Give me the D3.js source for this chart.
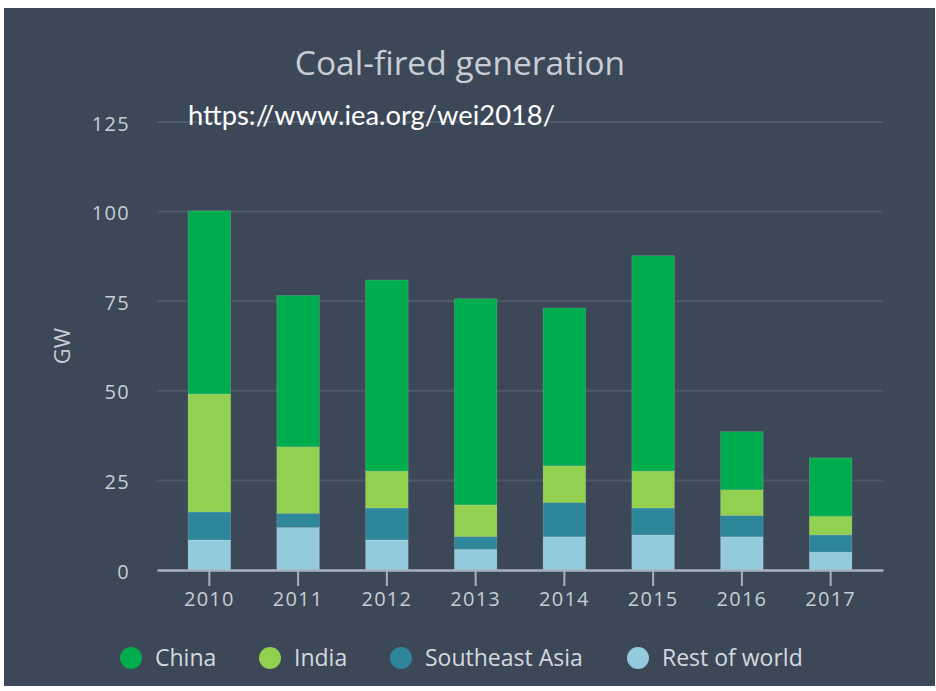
<!DOCTYPE html>
<html>
<head>
<meta charset="utf-8">
<script src="https://cdn.jsdelivr.net/npm/d3@7"></script>
<style>
  html, body { margin: 0; padding: 0; background: #ffffff; }
  svg { display: block; }
</style>
</head>
<body>
<svg id="chart" width="936" height="691"></svg>
<script>
const years = ["2010", "2011", "2012", "2013", "2014", "2015", "2016", "2017"];
const seriesNames = ["Rest of world", "Southeast Asia", "India", "China"];
const restOfWorld = [8.4, 11.9, 8.4, 5.8, 9.3, 9.8, 9.3, 5.0];
const southeastAsia = [7.8, 3.9, 8.9, 3.5, 9.5, 7.5, 5.9, 4.8];
const india = [32.9, 18.6, 10.3, 8.9, 10.3, 10.3, 7.2, 5.2];
const china = [51.1, 42.2, 53.3, 57.5, 44.0, 60.1, 16.2, 16.3];
const yTicks = [0, 25, 50, 75, 100, 125];
const legendOrder = ["China", "India", "Southeast Asia", "Rest of world"];
const titleText = "Coal-fired generation";
const urlText = "https://www.iea.org/wei2018/";
const yLabel = "GW";

const colors = {
  "China": "#00ad4e",
  "India": "#92d050",
  "Southeast Asia": "#2e869b",
  "Rest of world": "#93cbdc"
};

const seriesValues = {
  "Rest of world": restOfWorld,
  "Southeast Asia": southeastAsia,
  "India": india,
  "China": china
};

const table = years.map((y, i) => {
  const row = { year: y };
  seriesNames.forEach(s => row[s] = seriesValues[s][i]);
  return row;
});

const svg = d3.select("#chart");

// panel background
svg.append("rect")
  .attr("x", 4).attr("y", 8)
  .attr("width", 931).attr("height", 678)
  .attr("fill", "#3c4757");

const x = d3.scaleBand()
  .domain(years)
  .range([157, 883])
  .paddingInner(0.52)
  .paddingOuter(0.35);

const y = d3.scaleLinear()
  .domain([0, 125])
  .range([570, 122]);

// gridlines
svg.append("g")
  .selectAll("line")
  .data(yTicks.filter(d => d > 0))
  .join("line")
  .attr("x1", 157).attr("x2", 883)
  .attr("y1", d => y(d)).attr("y2", d => y(d))
  .attr("stroke", "#4e5968")
  .attr("stroke-width", 2);

// y axis labels
const yAxis = d3.axisLeft(y).tickValues(yTicks).tickSize(0).tickPadding(0);
const gy = svg.append("g").attr("transform", "translate(130,0)").call(yAxis);
gy.select(".domain").remove();
gy.selectAll("text")
  .attr("fill", "#c8cdd5")
  .attr("font-family", "'Open Sans', 'Noto Sans', sans-serif")
  .attr("font-size", 20)
  .attr("letter-spacing", "1.3px")
  .attr("dy", "0.4em");

// stacked bars
const stack = d3.stack().keys(seriesNames);
const stacked = stack(table);

svg.append("g")
  .selectAll("g")
  .data(stacked)
  .join("g")
  .attr("fill", d => colors[d.key])
  .selectAll("rect")
  .data(d => d)
  .join("rect")
  .attr("x", d => x(d.data.year))
  .attr("width", x.bandwidth())
  .attr("y", d => y(d[1]))
  .attr("height", d => y(d[0]) - y(d[1]))
  .attr("stroke", "rgba(255,255,255,0.18)")
  .attr("stroke-width", 0.8);

// x axis
const xAxis = d3.axisBottom(x).tickSize(16).tickPadding(6).tickSizeOuter(0);
const gx = svg.append("g").attr("transform", "translate(0,570)").call(xAxis);
gx.select(".domain").attr("stroke", "#aab2c2").attr("stroke-width", 2.5);
gx.selectAll(".tick line").attr("stroke", "#aab2c2").attr("stroke-width", 2);
gx.selectAll("text")
  .attr("fill", "#c8cdd5")
  .attr("font-family", "'Open Sans', 'Noto Sans', sans-serif")
  .attr("font-size", 20)
  .attr("letter-spacing", "1.3px")
  .attr("dy", "0")
  .attr("y", 36);

// title
svg.append("text")
  .attr("x", 460).attr("y", 75)
  .attr("text-anchor", "middle")
  .attr("fill", "#c8cdd5")
  .attr("font-family", "'Open Sans', 'Noto Sans', sans-serif")
  .attr("font-size", 33.5)
  .text(titleText);

// url annotation
svg.append("text")
  .attr("x", 188).attr("y", 125)
  .attr("fill", "#ffffff")
  .attr("font-family", "Lato, 'Open Sans', sans-serif")
  .attr("font-size", 26)
  .attr("textLength", 367)
  .attr("lengthAdjust", "spacingAndGlyphs")
  .text(urlText);

// y axis title
svg.append("text")
  .attr("transform", "translate(70,346) rotate(-90)")
  .attr("text-anchor", "middle")
  .attr("fill", "#c8cdd5")
  .attr("font-family", "'Open Sans', 'Noto Sans', sans-serif")
  .attr("font-size", 22)
  .text(yLabel);

// legend
const legendX = [131, 270, 401, 638];
const legend = svg.append("g")
  .selectAll("g")
  .data(legendOrder)
  .join("g")
  .attr("transform", (d, i) => `translate(${legendX[i]},658)`);
legend.append("circle")
  .attr("r", 11)
  .attr("fill", d => colors[d]);
legend.append("text")
  .attr("x", 24)
  .attr("y", 8)
  .attr("fill", "#d5d9df")
  .attr("font-family", "'Open Sans', 'Noto Sans', sans-serif")
  .attr("font-size", 23)
  .text(d => d);
</script>
</body>
</html>
